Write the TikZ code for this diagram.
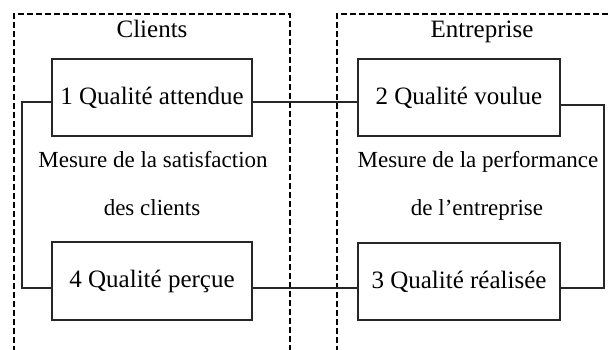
\documentclass[tikz,border=0pt]{standalone}
\usepackage{fontspec}
\setmainfont{Liberation Serif}
\begin{document}
\begin{tikzpicture}[x=1pt,y=-1pt,
  qbox/.style={draw=black!85,line width=1.4pt,minimum height=77pt,inner sep=0pt,font=\fontsize{25}{29}\selectfont},
  lbl/.style={inner sep=0pt,anchor=base,font=\fontsize{23}{27}\selectfont},
  ttl/.style={inner sep=0pt,anchor=base,font=\fontsize{25}{29}\selectfont},
  frame/.style={draw=black,line width=1.8pt,dash pattern=on 6pt off 3pt},
  conn/.style={draw=black!85,line width=1.3pt}]
\useasboundingbox (0,0) rectangle (609,349);
\clip (0,0) rectangle (609,349);
\fill[white] (0,0) rectangle (609,349);
% frames
\draw[frame] (14,352) -- (14,14) -- (290,14) -- (290,352);
\draw[frame] (337,352) -- (337,14) -- (620,14);
% boxes
\node[qbox,minimum width=200pt] (b1) at (152,97.5) {1 Qualité attendue};
\node[qbox,minimum width=202pt] (b2) at (459,97.5) {2 Qualité voulue};
\node[qbox,minimum width=200pt,minimum height=78pt] (b4) at (152,281) {4 Qualité perçue};
\node[qbox,minimum width=202pt] (b3) at (459,281.5) {3 Qualité réalisée};
% labels
\node[ttl] (tc) at (152,37) {Clients};
\node[ttl] (te) at (482,37) {Entreprise};
\node[lbl] (ms) at (153,167) {Mesure de la satisfaction};
\node[lbl] (dc) at (152,215) {des clients};
\node[lbl] (mp) at (478,167) {Mesure de la performance};
\node[lbl] (de) at (477,215) {de l’entreprise};
% connectors
\coordinate (lt) at (22,102);
\coordinate (lb) at (22,288);
\coordinate (rt) at (604,105);
\coordinate (rb) at (604,288);
\draw[conn] ([yshift=-4.5pt]b1.west) -- (lt) -- (lb) -- ([yshift=-7pt]b4.west);
\draw[conn] ([yshift=-4.5pt]b1.east) -- ([yshift=-4.5pt]b2.west);
\draw[conn] ([yshift=-7.5pt]b2.east) -- (rt) -- (rb) -- ([yshift=-6.5pt]b3.east);
\draw[conn] ([yshift=-7pt]b4.east) -- ([yshift=-6.5pt]b3.west);
\end{tikzpicture}
\end{document}
